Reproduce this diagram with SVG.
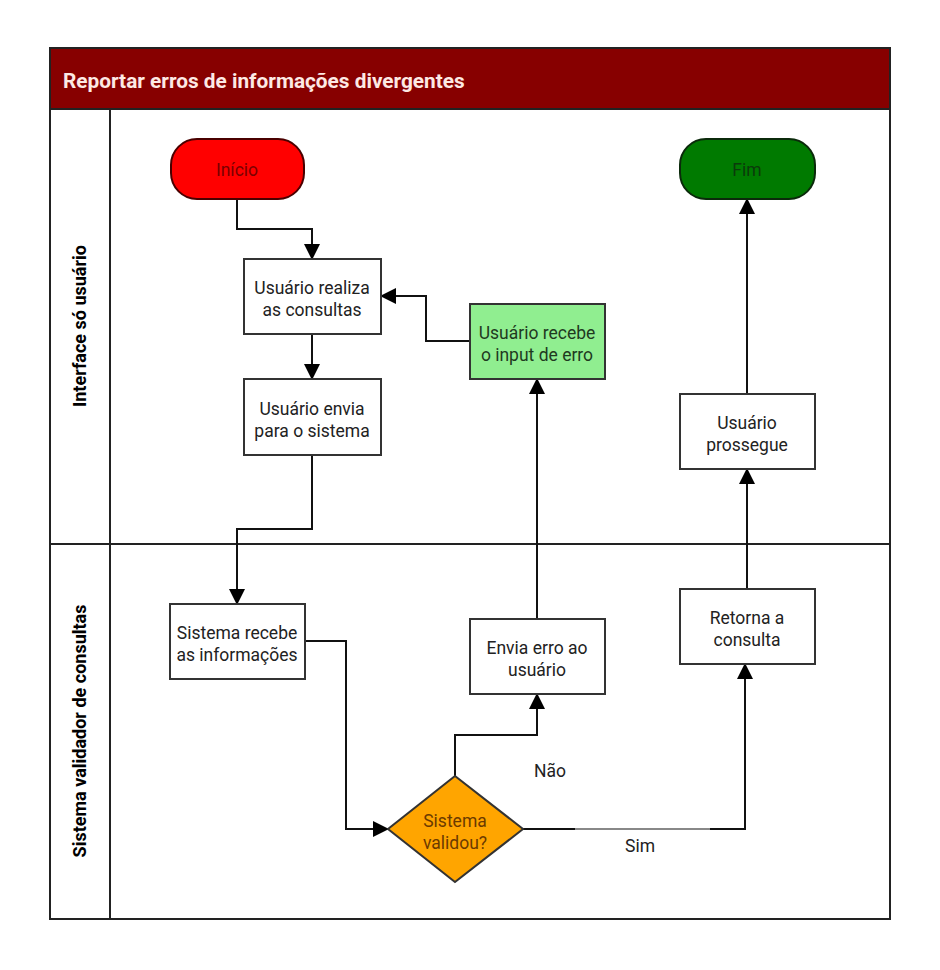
<svg xmlns="http://www.w3.org/2000/svg" width="940" height="970" viewBox="0 0 940 970">
  <style>
    .frame { fill: none; stroke: #222; stroke-width: 2; }
    .box { fill: #ffffff; stroke: #333; stroke-width: 2; }
    .txt { font-family: Roboto, "Liberation Sans", sans-serif; font-size: 17.5px; fill: #222; text-anchor: middle; }
    .lane { font-family: Roboto, "Liberation Sans", sans-serif; font-size: 18px; font-weight: bold; fill: #000; text-anchor: middle; }
    .edge { fill: none; stroke: #111; stroke-width: 2; }
  </style>
  <defs>
    <marker id="arrow" markerUnits="userSpaceOnUse" markerWidth="16" markerHeight="16" viewBox="0 0 16 16" refX="15" refY="8" orient="auto">
      <path d="M0,0 L16,8 L0,16 Z" fill="#000"/>
    </marker>
  </defs>

  <rect x="0" y="0" width="940" height="970" fill="#ffffff"/>

  <!-- pool and lanes -->
  <g id="pool">
    <rect x="50" y="48" width="840" height="61" fill="#870000" stroke="#222" stroke-width="2"/>
    <text x="63" y="88" font-family="Roboto, 'Liberation Sans', sans-serif" font-size="20.8" font-weight="bold" fill="#fde9e4">Reportar erros de informações divergentes</text>
    <rect x="50" y="109" width="840" height="810" class="frame"/>
    <line x1="110" y1="109" x2="110" y2="919" stroke="#222" stroke-width="2"/>
    <line x1="50" y1="544" x2="890" y2="544" stroke="#222" stroke-width="2"/>
    <text class="lane" transform="translate(86,326) rotate(-90)">Interface só usuário</text>
    <text class="lane" transform="translate(86,731) rotate(-90)">Sistema validador de consultas</text>
  </g>

  <!-- connectors -->
  <g id="connectors">
    <polyline class="edge" points="237,199 237,229 312,229 312,259" marker-end="url(#arrow)"/>
    <polyline class="edge" points="312,334 312,379" marker-end="url(#arrow)"/>
    <polyline class="edge" points="312,455 312,529 237,529 237,604" marker-end="url(#arrow)"/>
    <polyline class="edge" points="305,641 346,641 346,829 388,829" marker-end="url(#arrow)"/>
    <polyline class="edge" points="455,776 455,735 537,735 537,694" marker-end="url(#arrow)"/>
    <polyline class="edge" points="523,829 575,829"/>
    <polyline points="575,829 710,829" fill="none" stroke="#888" stroke-width="2"/>
    <polyline class="edge" points="710,829 745,829 745,664" marker-end="url(#arrow)"/>
    <polyline class="edge" points="537,619 537,379" marker-end="url(#arrow)"/>
    <polyline class="edge" points="470,341 426,341 426,296 381,296" marker-end="url(#arrow)"/>
    <polyline class="edge" points="747,589 747,469" marker-end="url(#arrow)"/>
    <polyline class="edge" points="747,394 747,199" marker-end="url(#arrow)"/>
    <text class="txt" x="550" y="777">Não</text>
    <text class="txt" x="640" y="852">Sim</text>
  </g>

  <!-- nodes -->
  <g id="inicio">
    <rect x="171" y="139" width="133" height="60" rx="26" fill="#ff0000" stroke="#4a0000" stroke-width="2"/>
    <text class="txt" x="237" y="176" style="fill:#7a0000">Início</text>
  </g>
  <g id="fim">
    <rect x="680" y="139" width="135" height="60" rx="26" fill="#007a00" stroke="#0b2a0b" stroke-width="2"/>
    <text class="txt" x="747" y="176" style="fill:#0b3a0b">Fim</text>
  </g>
  <g id="realiza">
    <rect class="box" x="244" y="259" width="137" height="75"/>
    <text class="txt" x="312" y="294">Usuário realiza</text>
    <text class="txt" x="312" y="316">as consultas</text>
  </g>
  <g id="envia-sistema">
    <rect class="box" x="244" y="379" width="137" height="76"/>
    <text class="txt" x="312" y="415">Usuário envia</text>
    <text class="txt" x="312" y="437">para o sistema</text>
  </g>
  <g id="recebe-erro">
    <rect x="470" y="304" width="135" height="75" fill="#90ee90" stroke="#333" stroke-width="2"/>
    <text class="txt" x="537" y="339" style="fill:#1f3a1f">Usuário recebe</text>
    <text class="txt" x="537" y="361" style="fill:#1f3a1f">o input de erro</text>
  </g>
  <g id="prossegue">
    <rect class="box" x="680" y="394" width="135" height="75"/>
    <text class="txt" x="747" y="429">Usuário</text>
    <text class="txt" x="747" y="451">prossegue</text>
  </g>
  <g id="sistema-recebe">
    <rect class="box" x="170" y="604" width="135" height="75"/>
    <text class="txt" x="237" y="639">Sistema recebe</text>
    <text class="txt" x="237" y="661">as informações</text>
  </g>
  <g id="envia-erro">
    <rect class="box" x="470" y="619" width="135" height="75"/>
    <text class="txt" x="537" y="654">Envia erro ao</text>
    <text class="txt" x="537" y="676">usuário</text>
  </g>
  <g id="retorna">
    <rect class="box" x="680" y="589" width="135" height="75"/>
    <text class="txt" x="747" y="624">Retorna a</text>
    <text class="txt" x="747" y="646">consulta</text>
  </g>
  <g id="validou">
    <polygon points="455,776 523,829 455,882 388,829" fill="#ffa500" stroke="#333" stroke-width="2"/>
    <text class="txt" x="455" y="827" style="fill:#6b3a00">Sistema</text>
    <text class="txt" x="455" y="849" style="fill:#6b3a00">validou?</text>
  </g>
</svg>
